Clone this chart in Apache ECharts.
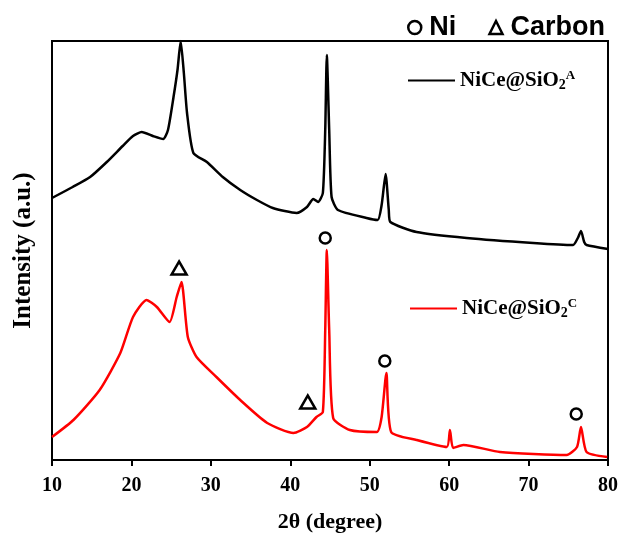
<!DOCTYPE html>
<html>
<head>
<meta charset="utf-8">
<script src="https://cdn.jsdelivr.net/npm/echarts@6/dist/echarts.min.js"></script>
<style>
html,body{margin:0;padding:0;background:#fff;}
#chart{width:621px;height:534px;}
</style>
</head>
<body>
<div id="chart"></div>
<script>
// XRD patterns, [2theta, intensity (a.u.)]
var sampleA = [
    [10.0, 262], [12.6, 273], [14.8, 283], [16.9, 298], [18.9, 314], [20.2, 324],
    [21.3, 328], [22.7, 324], [24.0, 321], [24.6, 330], [25.3, 363], [25.8, 390],
    [26.2, 419], [26.6, 387], [27.0, 347], [27.8, 307], [29.5, 298], [31.5, 283],
    [33.7, 270], [35.8, 260], [37.8, 252], [40.8, 247], [42.1, 253], [42.9, 261],
    [43.5, 258], [44.1, 267], [44.4, 330], [44.6, 405], [44.9, 330], [45.2, 263],
    [46.0, 250], [49.6, 242], [51.0, 240], [51.5, 255], [52.0, 286], [52.4, 250],
    [52.6, 238], [55.9, 228], [62.2, 222], [70.6, 217], [75.6, 215], [76.2, 222],
    [76.6, 229], [77.0, 218], [77.3, 215], [80.0, 211]
];
var sampleC = [
    [10.0, 23], [12.7, 40], [16.0, 70], [18.6, 107], [20.2, 143], [21.9, 160],
    [23.2, 153], [24.8, 138], [25.7, 163], [26.3, 178], [27.1, 123], [28.2, 103],
    [30.7, 83], [33.7, 60], [37.1, 37], [40.4, 27], [42.1, 33], [43.3, 43],
    [44.1, 48], [44.4, 130], [44.6, 210], [44.9, 130], [45.4, 42], [47.5, 30],
    [50.9, 28], [51.5, 43], [52.1, 87], [52.7, 28], [55.9, 20], [59.7, 13],
    [60.1, 30], [60.5, 12], [61.8, 15], [66.4, 8], [74.8, 5], [76.1, 13],
    [76.6, 33], [77.3, 8], [79.9, 3]
];
// phase markers
var niPeaks = [[44.4, 222], [51.9, 99], [76.0, 46]];
var carbonPeaks = [[26.0, 192], [42.2, 58]];

var xTicks = [10, 20, 30, 40, 50, 60, 70, 80];

var serif = 'Liberation Serif';
var nameRich = {
    sub: {fontFamily: serif, fontWeight: 'bold', fontSize: 14, color: '#000', padding: [10, 0, 0, 0]},
    sup: {fontFamily: serif, fontWeight: 'bold', fontSize: 13, color: '#000', padding: [0, 0, 10, 0]}
};
function sampleLabel(name) {
    var tag = name.slice(-1);
    return 'NiCe@SiO{sub|2}{sup|' + tag + '}';
}

var hollow = {color: 'transparent', borderColor: '#000', borderWidth: 2.5, opacity: 1};

var myChart = echarts.init(document.getElementById('chart'));
var option = {
    animation: false,
    grid: {left: 52, right: 13, top: 41, bottom: 74, show: true, borderColor: '#000', borderWidth: 2,
        outerBoundsMode: 'none'},
    xAxis: {
        type: 'value', min: 10, max: 80, interval: 10,
        name: '2θ (degree)', nameLocation: 'middle', nameGap: 51,
        nameTextStyle: {fontFamily: serif, fontWeight: 'bold', fontSize: 22, color: '#000'},
        axisLine: {lineStyle: {color: '#000', width: 2}},
        axisTick: {length: 6, lineStyle: {color: '#000', width: 2}},
        axisLabel: {fontFamily: serif, fontWeight: 'bold', fontSize: 20, color: '#000', margin: 16,
            formatter: function (v) { return xTicks.indexOf(v) >= 0 ? v : ''; }},
        splitLine: {show: false}
    },
    yAxis: {
        type: 'value', min: 0, max: 419,
        name: 'Intensity (a.u.)', nameLocation: 'middle', nameGap: 16, nameRotate: 90,
        nameTextStyle: {fontFamily: serif, fontWeight: 'bold', fontSize: 25, color: '#000'},
        axisLine: {lineStyle: {color: '#000', width: 2}},
        axisTick: {show: false},
        axisLabel: {show: false},
        splitLine: {show: false}
    },
    legend: [
        {
            data: [{name: 'Ni', icon: 'circle', itemStyle: hollow}, {name: 'Carbon', icon: 'triangle', itemStyle: hollow}],
            left: 402, top: 9, itemWidth: 13, itemHeight: 13, itemGap: 32,
            textStyle: {fontFamily: 'Liberation Sans', fontWeight: 'bold', fontSize: 27, color: '#000', padding: [0, 0, 0, 3]}
        },
        {
            data: ['NiCe@SiO2A'], left: 403, top: 64, icon: 'rect', itemWidth: 47, itemHeight: 2,
            formatter: sampleLabel,
            textStyle: {fontFamily: serif, fontWeight: 'bold', fontSize: 21, color: '#000', rich: nameRich}
        },
        {
            data: ['NiCe@SiO2C'], left: 405, top: 292, icon: 'rect', itemWidth: 47, itemHeight: 2,
            formatter: sampleLabel,
            textStyle: {fontFamily: serif, fontWeight: 'bold', fontSize: 21, color: '#000', rich: nameRich}
        }
    ],
    series: [
        {
            name: 'NiCe@SiO2A', type: 'line', data: sampleA, showSymbol: false, smooth: 0.2,
            lineStyle: {color: '#000', width: 2.5}, itemStyle: {color: '#000'}
        },
        {
            name: 'NiCe@SiO2C', type: 'line', data: sampleC, showSymbol: false, smooth: 0.2,
            lineStyle: {color: '#ff0000', width: 2.5}, itemStyle: {color: '#ff0000'}
        },
        {
            name: 'Ni', type: 'scatter', data: niPeaks, symbol: 'circle', symbolSize: 11,
            itemStyle: hollow
        },
        {
            name: 'Carbon', type: 'scatter', data: carbonPeaks, symbol: 'triangle', symbolSize: [15, 13],
            itemStyle: hollow
        }
    ]
};
myChart.setOption(option);
</script>
</body>
</html>
